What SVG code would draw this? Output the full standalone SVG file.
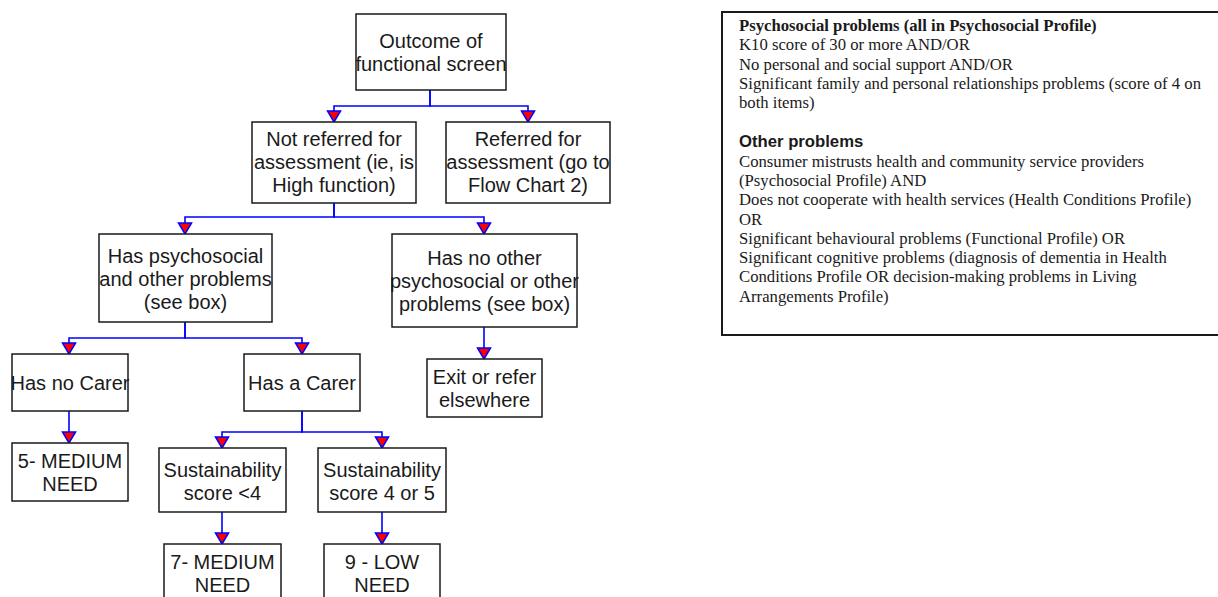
<svg xmlns="http://www.w3.org/2000/svg" width="1218" height="597" viewBox="0 0 1218 597">
  <style>
    .box { fill: #ffffff; stroke: #1a1a1a; stroke-width: 1.5; }
    .lbl { font-family: "Liberation Sans", Arial, sans-serif; font-size: 20px; fill: #1a1a1a; text-anchor: middle; }
    .conn { fill: none; stroke: #0000ff; stroke-width: 1.6; marker-end: url(#arrow); }
    .note { font-family: "Liberation Serif", "Times New Roman", serif; font-size: 16.7px; fill: #1a1a1a; }
    .note-b { font-weight: bold; }
    .note-h { font-family: "Liberation Sans", Arial, sans-serif; font-size: 16.7px; font-weight: bold; fill: #1a1a1a; }
  </style>
  <defs>
    <marker id="arrow" viewBox="0 0 11 13" refX="11" refY="6.5" markerWidth="11" markerHeight="13" markerUnits="userSpaceOnUse" orient="auto" overflow="visible">
      <path d="M0,0 L11,6.5 L0,13 Z" fill="#ff0000" stroke="#0000ff" stroke-width="1.5" stroke-linejoin="miter"/>
    </marker>
  </defs>
  <rect width="1218" height="597" fill="#ffffff"/>

  <!-- connectors -->
  <g id="connectors">
    <path class="conn" d="M430,90 V106 H334 V122"/>
    <path class="conn" d="M430,90 V106 H528 V122"/>
    <path class="conn" d="M334,203 V217 H185 V234"/>
    <path class="conn" d="M334,203 V217 H484 V234"/>
    <path class="conn" d="M185,322 V338 H69 V354"/>
    <path class="conn" d="M185,322 V338 H302 V354"/>
    <path class="conn" d="M484,327 V359"/>
    <path class="conn" d="M69,411 V443"/>
    <path class="conn" d="M302,411 V432 H222 V448"/>
    <path class="conn" d="M302,411 V432 H382 V448"/>
    <path class="conn" d="M222,512 V544"/>
    <path class="conn" d="M382,512 V544"/>
  </g>

  <!-- flow nodes -->
  <g id="outcome">
    <rect class="box" x="356" y="14" width="150" height="76"/>
    <text class="lbl" x="431" y="48">Outcome of</text>
    <text class="lbl" x="431" y="71">functional screen</text>
  </g>
  <g id="not-referred">
    <rect class="box" x="252" y="122" width="164" height="81"/>
    <text class="lbl" x="334" y="146">Not referred for</text>
    <text class="lbl" x="334" y="169">assessment (ie, is</text>
    <text class="lbl" x="334" y="192">High function)</text>
  </g>
  <g id="referred">
    <rect class="box" x="446" y="122" width="164" height="81"/>
    <text class="lbl" x="528" y="146">Referred for</text>
    <text class="lbl" x="528" y="169">assessment (go to</text>
    <text class="lbl" x="528" y="192">Flow Chart 2)</text>
  </g>
  <g id="has-problems">
    <rect class="box" x="99" y="234" width="173" height="88"/>
    <text class="lbl" x="185.5" y="263">Has psychosocial</text>
    <text class="lbl" x="185.5" y="286">and other problems</text>
    <text class="lbl" x="185.5" y="309">(see box)</text>
  </g>
  <g id="no-problems">
    <rect class="box" x="392" y="234" width="185" height="93"/>
    <text class="lbl" x="484.5" y="265">Has no other</text>
    <text class="lbl" x="484.5" y="288">psychosocial or other</text>
    <text class="lbl" x="484.5" y="311">problems (see box)</text>
  </g>
  <g id="no-carer">
    <rect class="box" x="12" y="354" width="116" height="57"/>
    <text class="lbl" x="70" y="390">Has no Carer</text>
  </g>
  <g id="has-carer">
    <rect class="box" x="244" y="354" width="116" height="57"/>
    <text class="lbl" x="302" y="390">Has a Carer</text>
  </g>
  <g id="exit">
    <rect class="box" x="427" y="359" width="115" height="58"/>
    <text class="lbl" x="484.5" y="384">Exit or refer</text>
    <text class="lbl" x="484.5" y="407">elsewhere</text>
  </g>
  <g id="need-5">
    <rect class="box" x="12" y="443" width="116" height="58"/>
    <text class="lbl" x="70" y="468">5- MEDIUM</text>
    <text class="lbl" x="70" y="491">NEED</text>
  </g>
  <g id="sustain-low">
    <rect class="box" x="159" y="448" width="127" height="64"/>
    <text class="lbl" x="222.5" y="477">Sustainability</text>
    <text class="lbl" x="222.5" y="500">score &lt;4</text>
  </g>
  <g id="sustain-high">
    <rect class="box" x="318" y="448" width="128" height="64"/>
    <text class="lbl" x="382" y="477">Sustainability</text>
    <text class="lbl" x="382" y="500">score 4 or 5</text>
  </g>
  <g id="need-7">
    <rect class="box" x="164" y="544" width="117" height="60"/>
    <text class="lbl" x="222.5" y="569">7- MEDIUM</text>
    <text class="lbl" x="222.5" y="592">NEED</text>
  </g>
  <g id="need-9">
    <rect class="box" x="324" y="544" width="116" height="60"/>
    <text class="lbl" x="382" y="569">9 - LOW</text>
    <text class="lbl" x="382" y="592">NEED</text>
  </g>

  <!-- criteria note -->
  <g id="criteria-box">
    <rect x="722" y="12" width="510" height="323" fill="#ffffff" stroke="#1a1a1a" stroke-width="2"/>
    <text class="note note-b" x="739" y="31">Psychosocial problems (all in Psychosocial Profile)</text>
    <text class="note" x="739" y="50.3">K10 score of 30 or more AND/OR</text>
    <text class="note" x="739" y="69.6">No personal and social support AND/OR</text>
    <text class="note" x="739" y="89">Significant family and personal relationships problems (score of 4 on</text>
    <text class="note" x="739" y="108">both items)</text>
    <text class="note-h" x="739" y="147">Other problems</text>
    <text class="note" x="739" y="166.5">Consumer mistrusts health and community service providers</text>
    <text class="note" x="739" y="186">(Psychosocial Profile) AND</text>
    <text class="note" x="739" y="205">Does not cooperate with health services (Health Conditions Profile)</text>
    <text class="note" x="739" y="224.5">OR</text>
    <text class="note" x="739" y="244">Significant behavioural problems (Functional Profile) OR</text>
    <text class="note" x="739" y="263">Significant cognitive problems (diagnosis of dementia in Health</text>
    <text class="note" x="739" y="282">Conditions Profile OR decision-making problems in Living</text>
    <text class="note" x="739" y="301.5">Arrangements Profile)</text>
  </g>
</svg>
